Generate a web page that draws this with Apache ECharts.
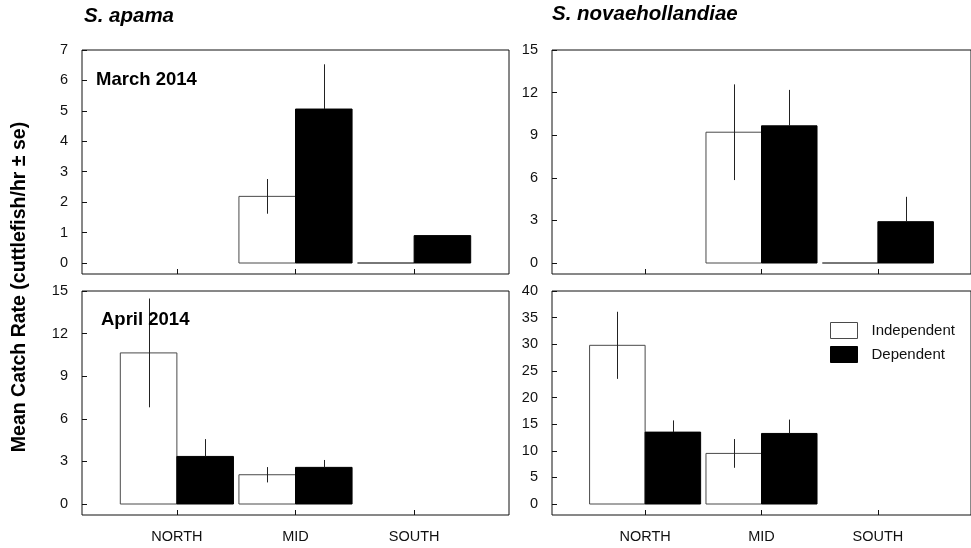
<!DOCTYPE html>
<html>
<head>
<meta charset="utf-8">
<script src="https://cdn.jsdelivr.net/npm/echarts@6/dist/echarts.min.js"></script>
<style>html,body{margin:0;padding:0;background:#fff}#c{width:971px;height:548px}</style>
</head>
<body>
<div id="c"></div>
<script>
// ---- data ----
const categories = ['NORTH', 'MID', 'SOUTH'];
const seriesNames = ['Independent', 'Dependent'];
const panelTitles = ['S. apama', 'S. novaehollandiae'];
const monthLabels = ['March 2014', 'April 2014'];
const yLabel = 'Mean Catch Rate (cuttlefish/hr \u00b1 se)';

// March 2014, S. apama
const marApamaInd = [null, 2.19, 0];
const marApamaIndSe = [null, 0.57, 0];
const marApamaDep = [null, 5.06, 0.90];
const marApamaDepSe = [null, 1.47, 0];
// March 2014, S. novaehollandiae
const marNovaInd = [null, 9.21, 0];
const marNovaIndSe = [null, 3.37, 0];
const marNovaDep = [null, 9.66, 2.91];
const marNovaDepSe = [null, 2.53, 1.75];
// April 2014, S. apama
const aprApamaInd = [10.64, 2.06, null];
const aprApamaIndSe = [3.83, 0.54, null];
const aprApamaDep = [3.35, 2.58, null];
const aprApamaDepSe = [1.22, 0.52, null];
// April 2014, S. novaehollandiae
const aprNovaInd = [29.8, 9.5, null];
const aprNovaIndSe = [6.3, 2.7, null];
const aprNovaDep = [13.5, 13.25, null];
const aprNovaDepSe = [2.2, 2.6, null];

// tick labels
const ticksApamaMar = [0, 1, 2, 3, 4, 5, 6, 7];
const ticksNovaMar = [0, 3, 6, 9, 12, 15];
const ticksApamaApr = [0, 3, 6, 9, 12, 15];
const ticksNovaApr = [0, 5, 10, 15, 20, 25, 30, 35, 40];

// ---- layout ----
const panels = [
  {ind: marApamaInd, indSe: marApamaIndSe, dep: marApamaDep, depSe: marApamaDepSe, ticks: ticksApamaMar, left: 82, top: 50, bottomLabels: false},
  {ind: marNovaInd, indSe: marNovaIndSe, dep: marNovaDep, depSe: marNovaDepSe, ticks: ticksNovaMar, left: 552, top: 50, bottomLabels: false},
  {ind: aprApamaInd, indSe: aprApamaIndSe, dep: aprApamaDep, depSe: aprApamaDepSe, ticks: ticksApamaApr, left: 82, top: 291, bottomLabels: true},
  {ind: aprNovaInd, indSe: aprNovaIndSe, dep: aprNovaDep, depSe: aprNovaDepSe, ticks: ticksNovaApr, left: 552, top: 291, bottomLabels: true}
];
const GW = 427, GH = 224, ZERO_OFF = 11;
const BW = 0.477;
const catPos = categories.map((c, i) => i + 1);
const FONT = '"Liberation Sans", Arial, sans-serif';

const grids = [], xAxes = [], yAxes = [], series = [];

function makeRender(offL, offR, isInd) {
  return function (params, api) {
    const x = api.value(0), v = api.value(1), se = api.value(2);
    const tl = api.coord([x + offL, v]);
    const br = api.coord([x + offR, 0]);
    const children = [];
    children.push({
      type: 'rect',
      shape: {x: tl[0], y: Math.min(tl[1], br[1]), width: br[0] - tl[0], height: Math.abs(br[1] - tl[1])},
      style: isInd ? {fill: '#fff', stroke: '#4a4a4a', lineWidth: 1} : {fill: '#000', stroke: '#000', lineWidth: 1}
    });
    if (se > 0) {
      const c = x + (offL + offR) / 2;
      const p1 = api.coord([c, isInd ? v - se : v]);
      const p2 = api.coord([c, v + se]);
      children.push({
        type: 'line',
        shape: {x1: Math.round(p1[0]) + 0.5, y1: p1[1], x2: Math.round(p1[0]) + 0.5, y2: p2[1]},
        style: {stroke: '#222', lineWidth: 1}
      });
    }
    return {type: 'group', children: children};
  };
}

panels.forEach((p, gi) => {
  const ymax = p.ticks[p.ticks.length - 1];
  const ymin = -ymax * ZERO_OFF / (GH - ZERO_OFF);
  grids.push({left: p.left, top: p.top, width: GW, height: GH, show: true, borderColor: '#111', borderWidth: 1, backgroundColor: 'transparent'});
  xAxes.push({
    type: 'value', gridIndex: gi, min: 0.2, max: 3.8, position: 'bottom',
    axisLine: {show: false, onZero: false}, splitLine: {show: false},
    axisTick: {show: true, inside: true, length: 5, customValues: catPos, lineStyle: {color: '#111'}},
    axisLabel: {show: p.bottomLabels, customValues: catPos, margin: 14, color: '#111', fontSize: 14.5, fontFamily: FONT,
      formatter: v => categories[Math.round(v) - 1] || ''}
  });
  yAxes.push({
    type: 'value', gridIndex: gi, min: ymin, max: ymax,
    axisLine: {show: false, onZero: false}, splitLine: {show: false},
    axisTick: {show: true, inside: true, length: 5, customValues: p.ticks, lineStyle: {color: '#111'}},
    axisLabel: {customValues: p.ticks, margin: 14, color: '#111', fontSize: 14.5, fontFamily: FONT}
  });
  const indData = [], depData = [];
  categories.forEach((c, i) => {
    if (p.ind[i] !== null) indData.push([catPos[i], p.ind[i], p.indSe[i]]);
    if (p.dep[i] !== null) depData.push([catPos[i], p.dep[i], p.depSe[i]]);
  });
  series.push({
    type: 'custom', name: seriesNames[0], xAxisIndex: gi, yAxisIndex: gi,
    itemStyle: {color: '#fff', borderColor: '#4a4a4a', borderWidth: 1},
    renderItem: makeRender(-BW, 0, true), data: indData, encode: {x: 0, y: 1}, silent: true
  });
  series.push({
    type: 'custom', name: seriesNames[1], xAxisIndex: gi, yAxisIndex: gi,
    itemStyle: {color: '#000'},
    renderItem: makeRender(0, BW, false), data: depData, encode: {x: 0, y: 1}, silent: true
  });
});

const titleStyle = {fontSize: 20.5, fontWeight: 'bold', fontStyle: 'italic', color: '#000', fontFamily: FONT};
const monthStyle = {fontSize: 18.5, fontWeight: 'bold', color: '#000', fontFamily: FONT};

const option = {
  animation: false,
  backgroundColor: '#fff',
  title: [
    {text: panelTitles[0], left: 84, top: 6, padding: 0, textStyle: titleStyle},
    {text: panelTitles[1], left: 552, top: 4, padding: 0, textStyle: titleStyle},
    {text: monthLabels[0], left: 96, top: 70, padding: 0, textStyle: monthStyle},
    {text: monthLabels[1], left: 101, top: 310, padding: 0, textStyle: monthStyle}
  ],
  legend: {
    orient: 'vertical', left: 830, top: 322, padding: 0, itemWidth: 27, itemHeight: 16, itemGap: 7,
    icon: 'rect', selectedMode: false,
    data: [
      {name: seriesNames[0], itemStyle: {color: '#fff', borderColor: '#4a4a4a', borderWidth: 1}},
      {name: seriesNames[1], itemStyle: {color: '#000', borderColor: '#000', borderWidth: 1}}
    ],
    textStyle: {fontSize: 15, color: '#111', fontFamily: FONT, padding: [0, 0, 0, 9]}
  },
  graphic: [{
    type: 'text', x: 20, y: 287, rotation: Math.PI / 2,
    style: {text: yLabel, font: 'bold 19.5px ' + FONT, fill: '#000', align: 'center', verticalAlign: 'middle'}
  }],
  grid: grids, xAxis: xAxes, yAxis: yAxes, series: series
};

const chart = echarts.init(document.getElementById('c'), null, {renderer: 'canvas'});
chart.setOption(option);
</script>
</body>
</html>
